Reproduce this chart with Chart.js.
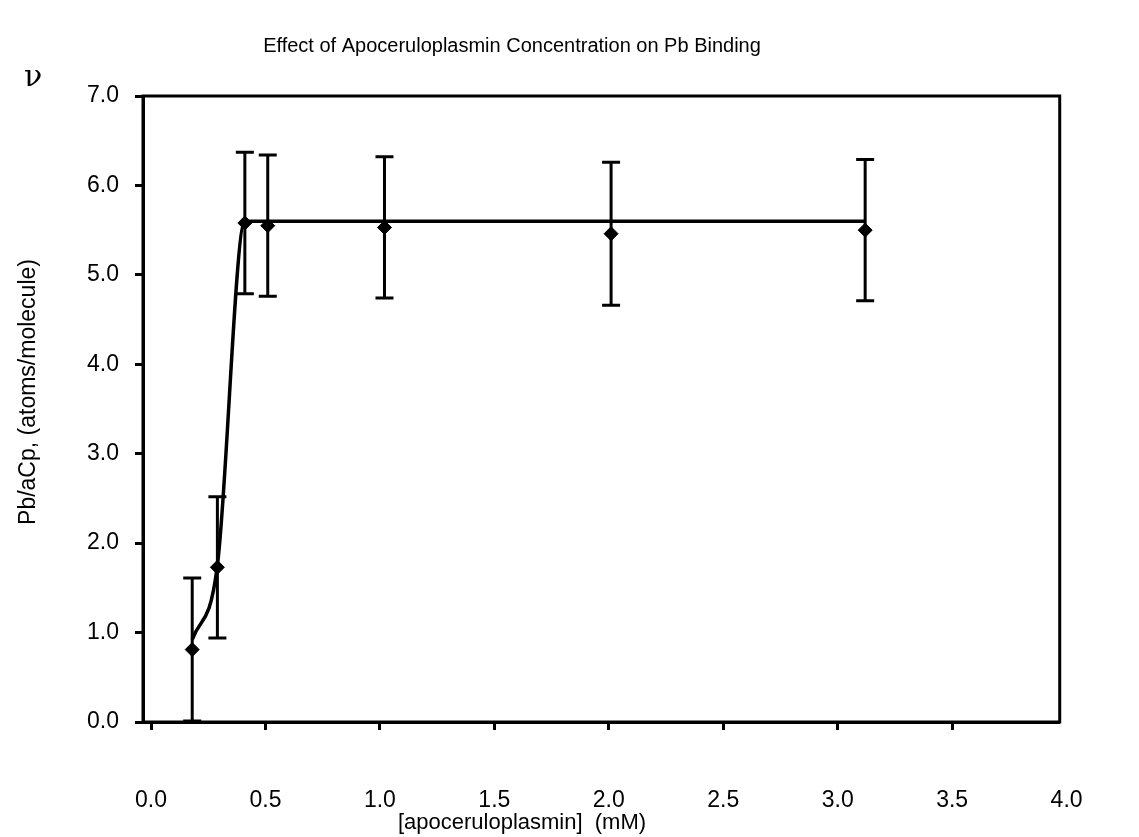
<!DOCTYPE html>
<html>
<head>
<meta charset="utf-8">
<script src="https://cdn.jsdelivr.net/npm/chart.js@4.4.0/dist/chart.umd.min.js"></script>
<style>
  body { margin: 0; background: #fff; }
  #grafico { display: block; }
</style>
</head>
<body>
<canvas id="grafico" width="1139" height="837"></canvas>
<script>
// dados
const concentracoes = [0.18, 0.29, 0.41, 0.51, 1.02, 2.01, 3.12];
const medias = [0.81, 1.73, 5.58, 5.55, 5.53, 5.46, 5.50];
const erros = [0.80, 0.79, 0.79, 0.79, 0.79, 0.80, 0.79];
const curvaX = [0.18, 0.29, 0.41, 0.51, 1.02, 2.01, 3.12];
const curvaY = [0.92, 1.75, 5.6, 5.6, 5.6, 5.6, 5.6];
const ticksX = [0, 0.5, 1.0, 1.5, 2.0, 2.5, 3.0, 3.5, 4.0];
const ticksY = [0, 1, 2, 3, 4, 5, 6, 7];

const fonte = '"Liberation Sans", Arial, sans-serif';

// barras de erro + moldura + textos
const decoracao = {
    id: 'decoracao',
    beforeDatasetsDraw(chart) {
        const { ctx, scales: { x, y } } = chart;
        ctx.save();
        ctx.strokeStyle = '#000';
        ctx.lineWidth = 3;
        concentracoes.forEach((c, i) => {
            const px = x.getPixelForValue(c);
            const top = y.getPixelForValue(medias[i] + erros[i]);
            const bot = y.getPixelForValue(Math.max(0, medias[i] - erros[i]));
            ctx.beginPath();
            ctx.moveTo(px, top);
            ctx.lineTo(px, bot);
            ctx.moveTo(px - 9, top);
            ctx.lineTo(px + 9, top);
            ctx.moveTo(px - 9, bot);
            ctx.lineTo(px + 9, bot);
            ctx.stroke();
        });
        ctx.restore();
    },
    afterDraw(chart) {
        const { ctx, chartArea: a } = chart;
        ctx.save();
        ctx.strokeStyle = '#000';
        ctx.lineWidth = 3;
        ctx.strokeRect(a.left, a.top, a.right - a.left, a.bottom - a.top);

        ctx.fillStyle = '#000';
        ctx.textAlign = 'center';
        ctx.textBaseline = 'middle';
        ctx.font = '20px ' + fonte;
        ctx.fillText('Effect of Apoceruloplasmin Concentration on Pb Binding', 512, 46);

        ctx.font = '22px ' + fonte;
        ctx.fillText('[apoceruloplasmin]  (mM)', 522, 823);

        ctx.font = '30px "DejaVu Serif", serif';
        ctx.fillText('\u03bd', 33, 78);

        ctx.translate(29, 392);
        ctx.rotate(-Math.PI / 2);
        ctx.font = '23px ' + fonte;
        ctx.fillText('Pb/aCp, (atoms/molecule)', 0, 0);
        ctx.restore();
    }
};

function criarGrafico() {
    const ctx = document.getElementById('grafico').getContext('2d');
    new Chart(ctx, {
        type: 'scatter',
        data: {
            datasets: [
                {
                    label: 'Pb/aCp',
                    data: concentracoes.map((c, i) => ({ x: c, y: medias[i] })),
                    pointStyle: 'rectRot',
                    pointRadius: 7,
                    backgroundColor: '#000',
                    borderColor: '#000',
                    showLine: false,
                    order: 0,
                },
                {
                    label: 'curva',
                    data: curvaX.map((c, i) => ({ x: c, y: curvaY[i] })),
                    showLine: true,
                    pointRadius: 0,
                    borderColor: '#000',
                    borderWidth: 3.5,
                    cubicInterpolationMode: 'monotone',
                    fill: false,
                    order: 1,
                },
            ],
        },
        options: {
            responsive: false,
            animation: false,
            layout: { padding: { top: 96, right: 76, left: 0, bottom: 0 } },
            plugins: {
                legend: { display: false },
                title: { display: false },
                tooltip: { enabled: false },
            },
            scales: {
                x: {
                    type: 'linear',
                    min: -0.035,
                    max: 3.97,
                    afterBuildTicks: s => { s.ticks = ticksX.map(v => ({ value: v })); },
                    afterFit: s => { s.height = 115; },
                    grid: {
                        drawOnChartArea: false,
                        drawTicks: true,
                        tickLength: 8,
                        tickWidth: 3,
                        color: c => (c.tick && c.tick.value > 3.97 ? 'rgba(0,0,0,0)' : '#000'),
                    },
                    border: { display: true, color: '#000', width: 3 },
                    ticks: {
                        color: '#000',
                        padding: 57,
                        maxRotation: 0,
                        font: { family: fonte, size: 23 },
                        callback: v => v.toFixed(1),
                    },
                },
                y: {
                    min: 0,
                    max: 7,
                    afterBuildTicks: s => { s.ticks = ticksY.map(v => ({ value: v })); },
                    afterFit: s => { s.width = 143; },
                    grid: { drawOnChartArea: false, drawTicks: true, tickLength: 8, tickWidth: 3, color: '#000' },
                    border: { display: true, color: '#000', width: 3 },
                    ticks: {
                        color: '#000',
                        padding: 16,
                        font: { family: fonte, size: 23 },
                        callback: v => v.toFixed(1),
                    },
                },
            },
        },
        plugins: [decoracao],
    });
}

document.addEventListener('DOMContentLoaded', criarGrafico);
</script>
</body>
</html>
